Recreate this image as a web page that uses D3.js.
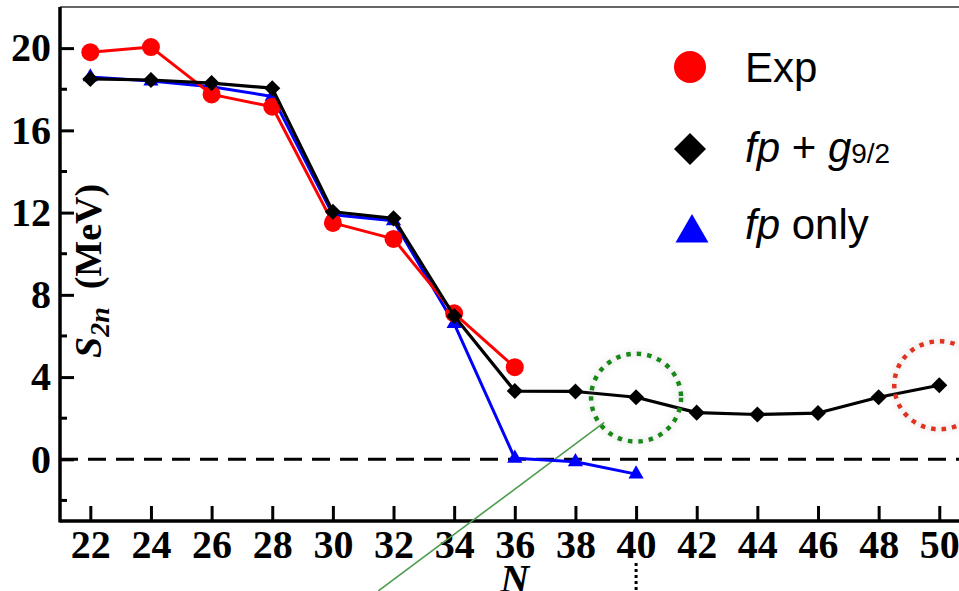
<!DOCTYPE html>
<html>
<head>
<meta charset="utf-8">
<script src="https://cdn.jsdelivr.net/npm/d3@7"></script>
<style>
  body { margin: 0; background: #fff; }
  svg { display: block; }
</style>
</head>
<body>
<div id="chart"></div>
<script>
// neutron numbers and S2n values (MeV)
var nExp = [22, 24, 26, 28, 30, 32, 34, 36];
var sExp = [19.8, 20.05, 17.75, 17.15, 11.5, 10.72, 7.1, 4.48];

var nFpg = [22, 24, 26, 28, 30, 32, 34, 36, 38, 40, 42, 44, 46, 48, 50];
var sFpg = [18.5, 18.45, 18.3, 18.05, 12.04, 11.72, 6.97, 3.32, 3.3, 3.02, 2.27, 2.18, 2.25, 3.02, 3.6];

var nFp = [22, 24, 26, 28, 30, 32, 34, 36, 38, 40];
var sFp = [18.6, 18.4, 18.12, 17.65, 11.9, 11.6, 6.6, 0.05, -0.12, -0.72];

var xTicks = [22, 24, 26, 28, 30, 32, 34, 36, 38, 40, 42, 44, 46, 48, 50];
var yMajor = [0, 4, 8, 12, 16, 20];
var yMinor = [-2, 2, 6, 10, 14, 18];

// annotation circles (N, S2n) and pointer line
var circleN = [40, 50];
var circleS = [3.0, 3.6];
var pointerN = [31.5, 38.95];
var pointerS = [-6.4, 1.8];

var width = 959, height = 591;
var margin = {left: 60, top: 7, bottom: 70};

var x = d3.scaleLinear().domain([21, 51]).range([margin.left, margin.left + 30 * 30.32]);
var y = d3.scaleLinear().domain([-3, 22]).range([height - margin.bottom, margin.top]);

var svg = d3.select("#chart").append("svg")
    .attr("width", width)
    .attr("height", height);

var defs = svg.append("defs");
var glow = defs.append("filter").attr("id", "glow")
    .attr("x", "-30%").attr("y", "-30%").attr("width", "160%").attr("height", "160%");
glow.append("feGaussianBlur").attr("in", "SourceAlpha").attr("stdDeviation", 3).attr("result", "b");
glow.append("feFlood").attr("flood-color", "#999").attr("flood-opacity", 0.55);
glow.append("feComposite").attr("in2", "b").attr("operator", "in").attr("result", "s");
var mg = glow.append("feMerge");
mg.append("feMergeNode").attr("in", "s");
mg.append("feMergeNode").attr("in", "SourceGraphic");

var serif = "'Liberation Serif', 'Times New Roman', serif";
var sans = "'Liberation Sans', Arial, Helvetica, sans-serif";

// top frame line
svg.append("line")
    .attr("x1", margin.left).attr("x2", width)
    .attr("y1", y(22)).attr("y2", y(22))
    .attr("stroke", "#666").attr("stroke-width", 2);

// zero line
svg.append("line")
    .attr("x1", x(21)).attr("x2", width)
    .attr("y1", y(0)).attr("y2", y(0))
    .attr("stroke", "#000").attr("stroke-width", 3)
    .attr("stroke-dasharray", "18,10");

// axes
var xAxis = svg.append("g")
    .attr("transform", "translate(0," + y(-3) + ")")
    .call(d3.axisBottom(x).tickValues(xTicks).tickSize(-15).tickPadding(9).tickFormat(d3.format("d")));
xAxis.select(".domain").remove();
xAxis.selectAll(".tick line").attr("stroke-width", 3);
xAxis.selectAll(".tick text")
    .style("font-family", serif).style("font-weight", "bold").style("font-size", "40px").attr("fill", "#000")
    .attr("dy", "0.7em");
svg.append("line")
    .attr("x1", margin.left).attr("x2", width)
    .attr("y1", y(-3)).attr("y2", y(-3))
    .attr("stroke", "#000").attr("stroke-width", 3.5);

var yAxis = svg.append("g")
    .attr("transform", "translate(" + margin.left + ",0)")
    .call(d3.axisRight(y).tickValues(yMajor).tickSize(14).tickPadding(0).tickFormat(d3.format("d")));
yAxis.select(".domain").remove();
yAxis.selectAll(".tick line").attr("stroke-width", 3);
yAxis.selectAll(".tick text")
    .attr("x", -9).attr("text-anchor", "end")
    .style("font-family", serif).style("font-weight", "bold").style("font-size", "40px").attr("fill", "#000");

svg.append("g").selectAll("line").data(yMinor).enter().append("line")
    .attr("x1", margin.left).attr("x2", margin.left + 7)
    .attr("y1", function(d) { return y(d); }).attr("y2", function(d) { return y(d); })
    .attr("stroke", "#000").attr("stroke-width", 3);

svg.append("line")
    .attr("x1", margin.left).attr("x2", margin.left)
    .attr("y1", y(22)).attr("y2", y(-3) + 1.5)
    .attr("stroke", "#000").attr("stroke-width", 3.5);

// axis titles
svg.append("text")
    .attr("x", x(36.0)).attr("y", 592)
    .attr("text-anchor", "middle")
    .style("font-family", serif).style("font-weight", "bold").style("font-style", "italic")
    .style("font-size", "40px").text("N");

var yl = svg.append("text")
    .attr("transform", "translate(101,358) rotate(-90)")
    .style("font-family", serif).style("font-weight", "bold").style("font-size", "38px");
yl.append("tspan").style("font-style", "italic").text("S");
yl.append("tspan").style("font-style", "italic").style("font-size", "28px").attr("dy", 8).text("2n");
yl.append("tspan").attr("dy", -8).attr("dx", 18).text("(MeV)");

// dotted mark below N=40
svg.append("line")
    .attr("x1", x(40)).attr("x2", x(40))
    .attr("y1", 563).attr("y2", height)
    .attr("stroke", "#000").attr("stroke-width", 3)
    .attr("stroke-dasharray", "3,3");

// pointer line
svg.append("line")
    .attr("x1", x(pointerN[0])).attr("y1", y(pointerS[0]))
    .attr("x2", x(pointerN[1])).attr("y2", y(pointerS[1]))
    .attr("stroke", "#4f9c4f").attr("stroke-width", 1.6);

// series
var line = d3.line()
    .x(function(d) { return x(d[0]); })
    .y(function(d) { return y(d[1]); });

function zip(a, b) { return a.map(function(v, i) { return [v, b[i]]; }); }

var fp = zip(nFp, sFp), fpg = zip(nFpg, sFpg), exp = zip(nExp, sExp);

svg.append("path").datum(fp).attr("d", line)
    .attr("fill", "none").attr("stroke", "#0000ff").attr("stroke-width", 3).attr("stroke-linejoin", "round");
svg.append("g").selectAll("path").data(fp).enter().append("path")
    .attr("d", d3.symbol(d3.symbolTriangle).size(100))
    .attr("transform", function(d) { return "translate(" + x(d[0]) + "," + y(d[1]) + ")"; })
    .attr("fill", "#0000ff");

svg.append("path").datum(exp).attr("d", line)
    .attr("fill", "none").attr("stroke", "#ff0000").attr("stroke-width", 3).attr("stroke-linejoin", "round");
svg.append("g").selectAll("circle").data(exp).enter().append("circle")
    .attr("cx", function(d) { return x(d[0]); })
    .attr("cy", function(d) { return y(d[1]); })
    .attr("r", 9)
    .attr("fill", "#ff0000");

svg.append("path").datum(fpg).attr("d", line)
    .attr("fill", "none").attr("stroke", "#000").attr("stroke-width", 3.2).attr("stroke-linejoin", "round");
svg.append("g").selectAll("path").data(fpg).enter().append("path")
    .attr("d", d3.symbol(d3.symbolSquare).size(130))
    .attr("transform", function(d) { return "translate(" + x(d[0]) + "," + y(d[1]) + ") rotate(45)"; })
    .attr("fill", "#000");

// dotted annotation circles
var circleColors = ["#138a13", "#e0301e"];
svg.append("g").selectAll("ellipse").data(circleN).enter().append("ellipse")
    .attr("cx", function(d) { return x(d); })
    .attr("cy", function(d, i) { return y(circleS[i]); })
    .attr("rx", 45).attr("ry", 44)
    .attr("fill", "none")
    .attr("stroke", function(d, i) { return circleColors[i]; })
    .attr("stroke-width", 4.5)
    .attr("stroke-dasharray", "4.5,6")
    .attr("filter", "url(#glow)");

// legend
var lg = svg.append("g").style("font-family", sans).style("font-size", "42px").attr("fill", "#000");
lg.append("circle").attr("cx", 690).attr("cy", 67).attr("r", 16).attr("fill", "#ff0000");
lg.append("path")
    .attr("d", d3.symbol(d3.symbolSquare).size(512))
    .attr("transform", "translate(690,149) rotate(45)").attr("fill", "#000");
lg.append("path")
    .attr("d", d3.symbol(d3.symbolTriangle).size(470))
    .attr("transform", "translate(692,233)").attr("fill", "#0000ff");

lg.append("text").attr("x", 745).attr("y", 82).text("Exp");
var t2 = lg.append("text").attr("x", 745).attr("y", 162);
t2.append("tspan").style("font-style", "italic").text("fp");
t2.append("tspan").text(" + ");
t2.append("tspan").style("font-style", "italic").text("g");
t2.append("tspan").style("font-size", "28px").attr("dy", 1).text("9/2");
var t3 = lg.append("text").attr("x", 745).attr("y", 239);
t3.append("tspan").style("font-style", "italic").text("fp");
t3.append("tspan").text(" only");
</script>
</body>
</html>
